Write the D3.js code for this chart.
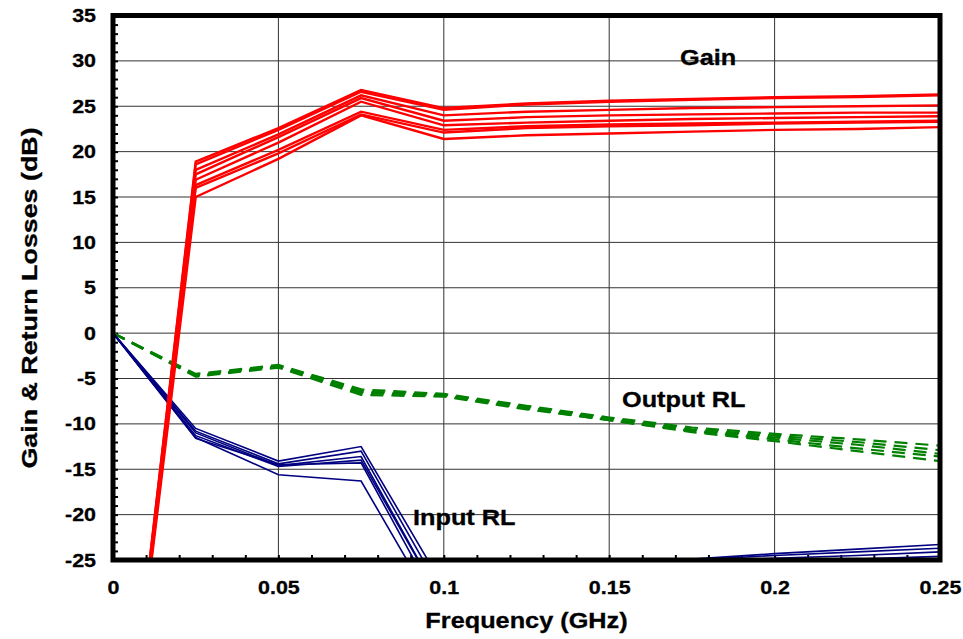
<!DOCTYPE html>
<html>
<head>
<meta charset="utf-8">
<script src="https://cdn.jsdelivr.net/npm/d3@7"></script>
<style>
  body { margin: 0; background: #fff; }
  text { font-family: Arial, "Liberation Sans", sans-serif; font-weight: bold; }
</style>
</head>
<body>
<div id="chart"></div>
<script>
// frequency points (GHz)
const freqs = [0, 0.025, 0.05, 0.075, 0.1, 0.125, 0.15, 0.175, 0.2, 0.225, 0.25];

// gain curves (dB)
const gainSeries = [
    [-60, 18.9, 22.6, 26.8, 24.8, 25.3, 25.6, 25.8, 26.0, 26.1, 26.3],
    [-60, 18.6, 22.4, 26.6, 24.6, 25.2, 25.5, 25.7, 25.9, 26.0, 26.2],
    [-60, 18.0, 21.9, 26.2, 24.0, 24.4, 24.6, 24.8, 24.9, 25.0, 25.1],
    [-60, 17.5, 21.6, 25.9, 23.4, 23.8, 24.0, 24.1, 24.2, 24.3, 24.3],
    [-60, 16.9, 21.0, 25.5, 22.9, 23.2, 23.4, 23.6, 23.7, 23.8, 23.9],
    [-60, 16.3, 20.2, 24.4, 22.4, 22.8, 23.0, 23.1, 23.2, 23.3, 23.4],
    [-60, 16.0, 19.8, 24.1, 22.1, 22.6, 22.8, 22.9, 23.1, 23.2, 23.3],
    [-60, 15.0, 19.2, 24.0, 21.4, 21.8, 22.0, 22.2, 22.4, 22.5, 22.7]
];

// input return loss curves (dB)
const inputRL = [
    [0, -10.5, -14.1, -12.5, -28, -27, -25.3, -24.9, -24.3, -23.8, -23.3],
    [0, -10.8, -14.4, -13.0, -29, -28, -25.6, -25.0, -24.5, -24.1, -23.7],
    [0, -11.0, -14.6, -13.6, -30, -28.5, -25.8, -25.3, -24.8, -24.5, -24.1],
    [0, -11.3, -14.7, -14.0, -30, -29, -26.5, -25.6, -25.2, -24.9, -24.6],
    [0, -11.6, -14.5, -14.3, -31, -29, -27, -26, -25.5, -25.2, -24.9],
    [0, -11.5, -15.6, -16.3, -32, -30, -27.5, -26.5, -26, -25.5, -25.2]
];

// output return loss curves (dB)
const outputRL = [
    [0, -4.5, -3.5, -6.2, -6.7, -8.0, -9.3, -10.4, -11.1, -11.7, -12.4],
    [0, -4.6, -3.6, -6.4, -6.8, -8.1, -9.4, -10.6, -11.3, -12.0, -12.9],
    [0, -4.7, -3.7, -6.6, -6.9, -8.2, -9.5, -10.7, -11.5, -12.3, -13.3],
    [0, -4.8, -3.8, -6.8, -7.0, -8.4, -9.6, -10.8, -11.7, -12.7, -13.6],
    [0, -4.7, -3.7, -6.5, -6.9, -8.3, -9.6, -10.9, -11.9, -13.0, -14.1]
];

// tick labels
const xTicks = [0, 0.05, 0.1, 0.15, 0.2, 0.25];
const yTicks = [-25, -20, -15, -10, -5, 0, 5, 10, 15, 20, 25, 30, 35];

const width = 963, height = 639;
const margin = { left: 113, top: 15.5, right: 23, bottom: 79 };
const chartWidth = width - margin.left - margin.right;
const chartHeight = height - margin.top - margin.bottom;
const stretch = 1.15; // text in the original is horizontally wide

const svg = d3.select("#chart").append("svg")
    .attr("width", width)
    .attr("height", height);

const xScale = d3.scaleLinear().domain([0, 0.25]).range([0, chartWidth]);
const yScale = d3.scaleLinear().domain([-25, 35]).range([chartHeight, 0]);

const g = svg.append("g")
    .attr("transform", "translate(" + margin.left + "," + margin.top + ")");

svg.append("defs").append("clipPath").attr("id", "plotClip")
    .append("rect").attr("width", chartWidth).attr("height", chartHeight);

// gridlines
g.append("g").selectAll("line.hgrid").data(yTicks).enter().append("line")
    .attr("x1", 0).attr("x2", chartWidth)
    .attr("y1", (d) => yScale(d)).attr("y2", (d) => yScale(d))
    .attr("stroke", "#333").attr("stroke-width", 1);
g.append("g").selectAll("line.vgrid").data(xTicks).enter().append("line")
    .attr("y1", 0).attr("y2", chartHeight)
    .attr("x1", (d) => xScale(d)).attr("x2", (d) => xScale(d))
    .attr("stroke", "#333").attr("stroke-width", 1);

// minor ticks (inside)
const yMinor = d3.axisRight(yScale).tickValues(d3.range(-25, 36, 1)).tickSize(5).tickFormat("");
g.append("g").attr("class", "minor").call(yMinor);
const xMinor = d3.axisTop(xScale).tickValues(d3.range(0, 0.2501, 0.01)).tickSize(5).tickFormat("");
g.append("g").attr("class", "minor").attr("transform", "translate(0," + chartHeight + ")").call(xMinor);
g.selectAll(".minor .domain").remove();
g.selectAll(".minor line").attr("stroke", "#000").attr("stroke-width", 2);

// lines
const lineFor = d3.line()
    .x((d, i) => xScale(freqs[i]))
    .y((d) => yScale(d));

const plot = g.append("g").attr("clip-path", "url(#plotClip)");

plot.selectAll("path.out").data(outputRL).enter().append("path")
    .attr("class", "out")
    .attr("d", lineFor)
    .attr("fill", "none")
    .attr("stroke", "#008000")
    .attr("stroke-width", 2.2)
    .attr("stroke-dasharray", "13,8");

plot.selectAll("path.inp").data(inputRL).enter().append("path")
    .attr("class", "inp")
    .attr("d", lineFor)
    .attr("fill", "none")
    .attr("stroke", "#000080")
    .attr("stroke-width", 1.6);

plot.selectAll("path.gain").data(gainSeries).enter().append("path")
    .attr("class", "gain")
    .attr("d", lineFor)
    .attr("fill", "none")
    .attr("stroke", "#ff0000")
    .attr("stroke-width", 2.4);

// border
g.append("rect")
    .attr("width", chartWidth).attr("height", chartHeight)
    .attr("fill", "none").attr("stroke", "#000").attr("stroke-width", 5);

// tick labels (plain hyphen for negatives, like the original)
const yAxis = d3.axisLeft(yScale).tickValues(yTicks).tickSize(0).tickPadding(17)
    .tickFormat((d) => String(d));
const yG = g.append("g").call(yAxis);
const xAxis = d3.axisBottom(xScale).tickValues(xTicks).tickSize(0).tickPadding(21)
    .tickFormat((d) => String(d));
const xG = g.append("g").attr("transform", "translate(0," + chartHeight + ")").call(xAxis);
[yG, xG].forEach((a) => {
    a.select(".domain").remove();
    a.selectAll("text")
        .attr("font-size", 19).attr("fill", "#000")
        .attr("stroke", "#000").attr("stroke-width", 0.3)
        .style("font-family", "Arial, 'Liberation Sans', sans-serif").style("font-weight", "bold")
        .attr("x", function() { return (+d3.select(this).attr("x") || 0) / 1.13; })
        .attr("transform", "scale(1.13,1)");
});

// plain text helper, stretched sideways
function label(x, y, txt, anchor, rotate, sx) {
    svg.append("text")
        .attr("transform", "translate(" + x + "," + y + ")" + (rotate ? " rotate(-90)" : "") + " scale(" + (sx || stretch) + ",1)")
        .attr("text-anchor", anchor || "start")
        .attr("font-size", 22)
        .attr("stroke", "#000").attr("stroke-width", 0.3)
        .text(txt);
}

// axis titles
label(526.5, 628, "Frequency (GHz)", "middle");
label(37, 298, "Gain & Return Losses (dB)", "middle", true, 1.22);

// series labels
label(680, 65, "Gain");
label(622, 407, "Output RL");
label(413, 525, "Input RL");
</script>
</body>
</html>
